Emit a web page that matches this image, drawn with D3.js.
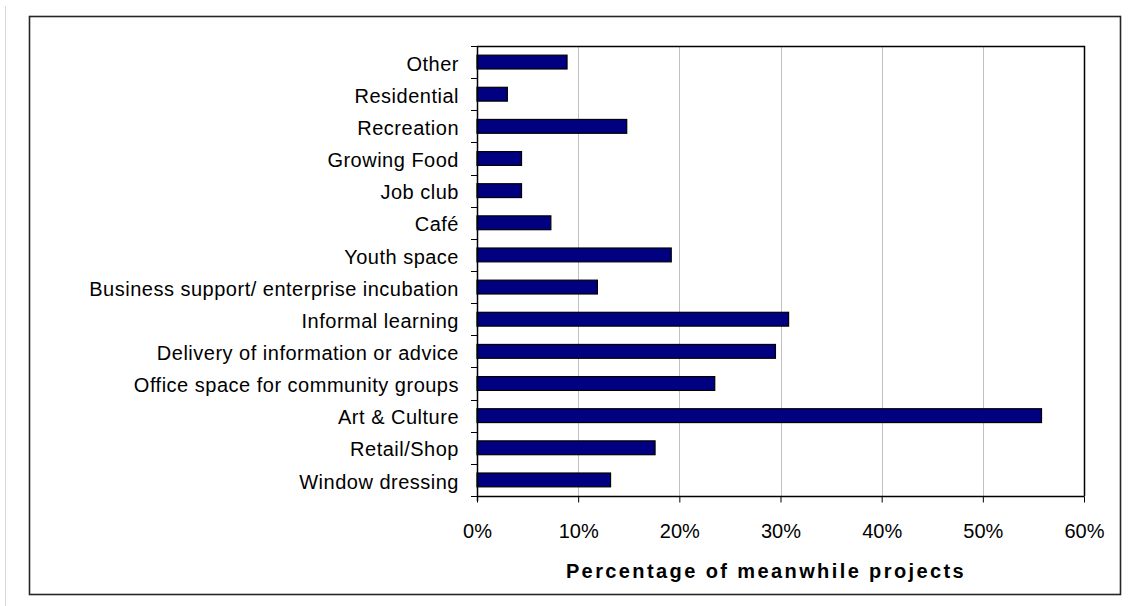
<!DOCTYPE html>
<html>
<head>
<meta charset="utf-8">
<script src="https://cdn.jsdelivr.net/npm/d3@7"></script>
<style>
  body { margin: 0; background: #fff; }
  svg { display: block; font-family: "Liberation Sans", Arial, sans-serif; }
</style>
</head>
<body>
<script>
// categories top to bottom, values in percent
var categories = ["Other", "Residential", "Recreation", "Growing Food", "Job club", "Café",
    "Youth space", "Business support/ enterprise incubation", "Informal learning",
    "Delivery of information or advice", "Office space for community groups",
    "Art & Culture", "Retail/Shop", "Window dressing"];
var values = [8.9, 3.0, 14.8, 4.4, 4.4, 7.3, 19.2, 11.9, 30.8, 29.5, 23.5, 55.8, 17.6, 13.2];
var xTicks = [0, 10, 20, 30, 40, 50, 60];

var width = 1136,
    height = 606;

var plot = {left: 477, right: 1084, top: 46, bottom: 496};

var svg = d3.select("body").append("svg")
    .attr("width", width)
    .attr("height", height);

// faint line on the far left
svg.append("line")
    .attr("x1", 5.5).attr("x2", 5.5)
    .attr("y1", 6).attr("y2", height)
    .attr("stroke", "#d8d8d8");

// outer frame
svg.append("rect")
    .attr("x", 29.5).attr("y", 16.5)
    .attr("width", 1091).attr("height", 578)
    .attr("fill", "none")
    .attr("stroke", "#262626")
    .attr("stroke-width", 1.6);

var x = d3.scaleLinear()
    .domain([0, 60])
    .range([plot.left, plot.right]);

var y = d3.scaleBand()
    .domain(categories)
    .range([plot.top, plot.bottom])
    .paddingInner(0.57)
    .paddingOuter(0.285);

var yBounds = d3.scaleLinear()
    .domain([0, categories.length])
    .range([plot.top, plot.bottom]);

// gridlines
svg.append("g")
    .selectAll("line")
    .data(xTicks.slice(1, -1))
    .enter().append("line")
    .attr("x1", function(d) { return Math.round(x(d)) + 0.5; })
    .attr("x2", function(d) { return Math.round(x(d)) + 0.5; })
    .attr("y1", plot.top)
    .attr("y2", plot.bottom)
    .attr("stroke", "#c0c0c0");

// bars
svg.append("g")
    .selectAll("rect")
    .data(values)
    .enter().append("rect")
    .attr("x", x(0))
    .attr("y", function(d, i) { return y(categories[i]); })
    .attr("width", function(d) { return x(d) - x(0); })
    .attr("height", y.bandwidth())
    .attr("fill", "#000080")
    .attr("stroke", "#000")
    .attr("stroke-width", 1.2);

// plot frame: top and right
svg.append("path")
    .attr("d", "M" + plot.left + "," + (plot.top + 0.5) + "H" + (plot.right + 0.5) + "V" + plot.bottom)
    .attr("fill", "none")
    .attr("stroke", "#000")
    .attr("stroke-width", 1.5);

// left axis with ticks at band boundaries
var yAxis = svg.append("g");
yAxis.append("line")
    .attr("x1", plot.left + 0.5).attr("x2", plot.left + 0.5)
    .attr("y1", plot.top).attr("y2", plot.bottom + 5)
    .attr("stroke", "#000").attr("stroke-width", 1.5);
yAxis.selectAll(".tick")
    .data(d3.range(categories.length + 1))
    .enter().append("line")
    .attr("class", "tick")
    .attr("x1", plot.left - 6).attr("x2", plot.left)
    .attr("y1", function(d) { return Math.round(yBounds(d)) + 0.5; })
    .attr("y2", function(d) { return Math.round(yBounds(d)) + 0.5; })
    .attr("stroke", "#000");

yAxis.selectAll("text")
    .data(categories)
    .enter().append("text")
    .attr("x", 459)
    .attr("y", function(d) { return y(d) + y.bandwidth() / 2; })
    .attr("dy", "0.43em")
    .attr("text-anchor", "end")
    .attr("font-size", 20)
    .attr("letter-spacing", "0.5px")
    .attr("fill", "#000")
    .text(function(d) { return d; });

// bottom axis
var xAxis = svg.append("g")
    .attr("transform", "translate(0," + (plot.bottom + 0.5) + ")")
    .call(d3.axisBottom(x)
        .tickValues(xTicks)
        .tickSize(6)
        .tickFormat(function(d) { return d + "%"; }));
xAxis.select(".domain")
    .attr("d", "M" + plot.left + ",0H" + (plot.right + 0.5))
    .attr("stroke-width", 1.5);
xAxis.selectAll("text")
    .attr("font-size", 20)
    .attr("font-family", "Liberation Sans, Arial, sans-serif")
    .attr("y", 0)
    .attr("dy", 0)
    .attr("transform", "translate(0,41)");

// axis title
svg.append("text")
    .attr("x", 766)
    .attr("y", 578)
    .attr("text-anchor", "middle")
    .attr("font-size", 20)
    .attr("font-weight", "bold")
    .attr("letter-spacing", "2.4px")
    .text("Percentage of meanwhile projects");
</script>
</body>
</html>
